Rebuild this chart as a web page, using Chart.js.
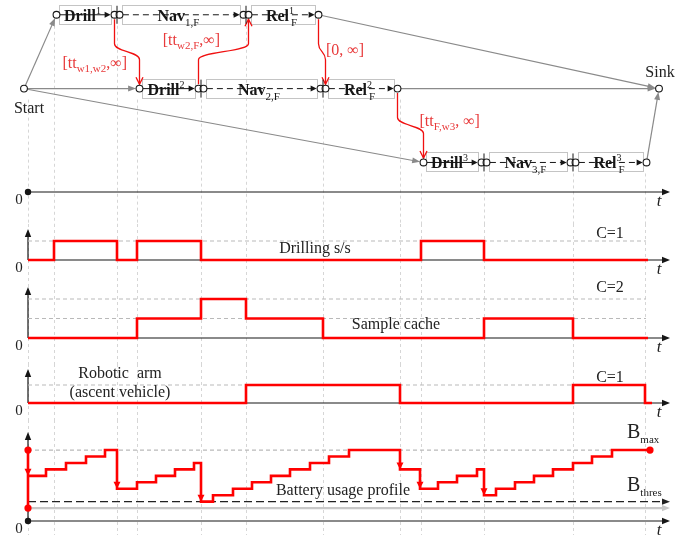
<!DOCTYPE html>
<html>
<head>
<meta charset="utf-8">
<script src="https://cdn.jsdelivr.net/npm/chart.js@4.4.1/dist/chart.umd.min.js"></script>
<style>
  html, body { margin: 0; padding: 0; background: #fff; }
  #wrap { position: relative; width: 692px; height: 535px; }
  #wrap canvas { position: absolute; left: 0; }
</style>
</head>
<body>
<div id="wrap">
  <canvas id="plan" width="692" height="224" style="top:0"></canvas>
  <canvas id="drill" width="692" height="54" style="top:224px"></canvas>
  <canvas id="cache" width="692" height="86" style="top:278px"></canvas>
  <canvas id="arm" width="692" height="56" style="top:364px"></canvas>
  <canvas id="battery" width="692" height="115" style="top:420px"></canvas>
</div>
<script>
'use strict';

// ---- time line (t = 0 at the origin) ----
const EVENT_T = [0, 26, 89, 109, 173, 218, 295, 372, 393, 456, 545, 617];
const EVENT_ROW = [1, 0, 0, 1, 1, 0, 1, 1, 2, 2, 2, 2];
const T_END = 642;
const CAP_END = 618;

// ---- plan: one row per robot ----
const ROBOT_IDS = ['1', '2', '3'];
const DRILL_SPAN = [[26, 89], [109, 173], [393, 456]];
const NAV_SPAN = [[89, 218], [173, 295], [456, 545]];
const REL_SPAN = [[218, 293], [295, 372], [545, 621]];
const START_NODE = [-4, 1];
const SINK_NODE = [631, 1];

// temporal constraints [row, t] -> [row, t]
const LINK_FROM = [[0, 89], [1, 173], [0, 293], [1, 372]];
const LINK_TO = [[1, 109], [0, 218], [1, 295], [2, 393]];
const LINK_TEXT = [['[tt', 'w1,w2', ',∞]'], ['[tt', 'w2,F', ',∞]'], ['[0, ∞]', '', ''], ['[tt', 'F,w3', ', ∞]']];

// ---- resource profiles ----
const DRILL_T = [0, 26, 89, 109, 173, 393, 456, 620];
const DRILL_USE = [0, 1, 0, 1, 0, 1, 0, 0];
const DRILL_CAP = [1];

const CACHE_T = [0, 109, 173, 218, 295, 456, 545, 620];
const CACHE_USE = [0, 1, 2, 1, 0, 1, 0, 0];
const CACHE_CAP = [1, 2];

const ARM_T = [0, 218, 372, 545, 617, 624];
const ARM_USE = [0, 1, 0, 1, 0, 0];
const ARM_CAP = [1];

const BAT_T = [0, 18, 38, 58, 77, 89, 109, 128, 147, 166, 173, 185, 205, 224, 243, 262, 282, 301, 321,
               372, 392, 410, 429, 449, 456, 468, 487, 506, 525, 545, 564, 584, 622];
const BAT_LVL = [7, 8, 9, 10, 11, 5, 6, 7, 8, 9, 3, 4, 5, 6, 7, 8, 9, 10, 11,
                 8, 5, 6, 7, 8, 4, 5, 6, 7, 8, 9, 10, 11, 11];
const BAT_MAX = 11;
const BAT_THRES = 3;
const BAT_RESERVE = 2;

// ---- styles ----
const SERIF = '"Liberation Serif", "DejaVu Serif", serif';
const RED = '#ff0000';
const LINK_RED = '#e8393a';
const GRID = '#d6d6d6';
const CAP = '#b9b9b9';
const INK = '#161616';

const X = (c, t) => c.scales.x.getPixelForValue(t);
const Y = (c, v) => c.scales.y.getPixelForValue(v);

function head(ctx, x, y, ang, len, half, color) {
    ctx.save();
    ctx.translate(x, y);
    ctx.rotate(ang);
    ctx.fillStyle = color;
    ctx.beginPath();
    ctx.moveTo(0, 0);
    ctx.lineTo(-len, -half);
    ctx.lineTo(-len, half);
    ctx.closePath();
    ctx.fill();
    ctx.restore();
}

function dot(ctx, x, y, r, fill, stroke) {
    ctx.save();
    ctx.beginPath();
    ctx.arc(x, y, r, 0, Math.PI * 2);
    ctx.fillStyle = fill;
    ctx.fill();
    if (stroke) { ctx.strokeStyle = stroke; ctx.lineWidth = 1.1; ctx.stroke(); }
    ctx.restore();
}

function hline(ctx, x0, x1, y, color, width, dash) {
    ctx.save();
    ctx.strokeStyle = color;
    ctx.lineWidth = width;
    ctx.setLineDash(dash || []);
    ctx.beginPath();
    ctx.moveTo(x0, y);
    ctx.lineTo(x1, y);
    ctx.stroke();
    ctx.restore();
}

// text made of [string, font, dy] pieces laid left to right
function pieces(ctx, parts, x, y, align, color) {
    ctx.save();
    ctx.fillStyle = color;
    ctx.textAlign = 'left';
    ctx.textBaseline = 'alphabetic';
    let w = 0;
    parts.forEach(p => { ctx.font = p[1]; w += ctx.measureText(p[0]).width; });
    let cx = align === 'center' ? x - w / 2 : align === 'right' ? x - w : x;
    parts.forEach(p => {
        ctx.font = p[1];
        ctx.fillText(p[0], cx, y + (p[2] || 0));
        cx += ctx.measureText(p[0]).width;
    });
    ctx.restore();
}

function drawEventGrid(chart, fromRow) {
    const ctx = chart.ctx;
    ctx.save();
    ctx.strokeStyle = GRID;
    ctx.lineWidth = 1;
    ctx.setLineDash([3, 3]);
    EVENT_T.forEach((t, i) => {
        const x = Math.round(X(chart, t)) + 0.5;
        const y0 = fromRow ? Y(chart, EVENT_ROW[i]) + 11 : 0;
        ctx.beginPath();
        ctx.moveTo(x, y0);
        ctx.lineTo(x, chart.height);
        ctx.stroke();
    });
    ctx.restore();
}

function drawTimeAxis(chart, withY, originDot) {
    const ctx = chart.ctx, a = chart.chartArea;
    const x0 = X(chart, 0), x1 = X(chart, T_END), y0 = a.bottom;
    ctx.save();
    ctx.strokeStyle = INK;
    ctx.lineWidth = 1.2;
    ctx.beginPath();
    ctx.moveTo(x0, y0);
    ctx.lineTo(x1 - 6, y0);
    ctx.stroke();
    head(ctx, x1, y0, 0, 8, 3.2, INK);
    if (withY) {
        const yt = a.top + 5;
        ctx.beginPath();
        ctx.moveTo(x0, y0);
        ctx.lineTo(x0, yt + 6);
        ctx.stroke();
        head(ctx, x0, yt, -Math.PI / 2, 8, 3.2, INK);
    }
    if (originDot) dot(ctx, x0, y0, 3.2, INK);
    ctx.fillStyle = '#222';
    ctx.textAlign = 'center';
    ctx.textBaseline = 'alphabetic';
    ctx.font = '15px ' + SERIF;
    ctx.fillText('0', x0 - 9, y0 + 12);
    ctx.font = 'italic 17px ' + SERIF;
    ctx.fillText('t', x1 - 11, y0 + 14);
    ctx.restore();
}

function grayArrow(ctx, p, q, r) {
    const dx = q[0] - p[0], dy = q[1] - p[1];
    const len = Math.hypot(dx, dy), ux = dx / len, uy = dy / len;
    const tipX = q[0] - ux * r, tipY = q[1] - uy * r;
    ctx.save();
    ctx.strokeStyle = '#8a8a8a';
    ctx.lineWidth = 1.2;
    ctx.beginPath();
    ctx.moveTo(p[0] + ux * r, p[1] + uy * r);
    ctx.lineTo(tipX - ux * 6, tipY - uy * 6);
    ctx.stroke();
    head(ctx, tipX, tipY, Math.atan2(uy, ux), 8, 3, '#8a8a8a');
    ctx.restore();
}

// ---- plan network ----
const LINK_LAYOUT = [['right', 0, 16.5], ['right', -3.5, -6.5], ['left', 4, 3.5], ['left', 9, 0]];

const planPlugin = {
    id: 'plan',
    afterDraw(chart) {
        const ctx = chart.ctx;
        const R = 3.4, G = 2.5;
        const nodes = [], ticks = [];

        drawEventGrid(chart, true);
        drawTimeAxis(chart, false, true);

        const start = [X(chart, START_NODE[0]), Y(chart, START_NODE[1])];
        const sink = [X(chart, SINK_NODE[0]), Y(chart, SINK_NODE[1])];
        nodes.push(start, sink);

        ROBOT_IDS.forEach((id, r) => {
            const y = Y(chart, r);
            grayArrow(ctx, start, [X(chart, DRILL_SPAN[r][0]) + G, y], R);
            grayArrow(ctx, [X(chart, REL_SPAN[r][1]) - G, y], sink, R);
        });

        ROBOT_IDS.forEach((id, r) => {
            const y = Y(chart, r);
            const tasks = [
                { name: 'Drill', span: DRILL_SPAN[r], dash: [], sup: id, sub: '' },
                { name: 'Nav', span: NAV_SPAN[r], dash: [6, 4], sup: '', sub: id + ',F' },
                { name: 'Rel', span: REL_SPAN[r], dash: [6, 4], sup: id, sub: 'F' },
            ];
            tasks.forEach((tk, k) => {
                const xs = X(chart, tk.span[0]), xe = X(chart, tk.span[1]);
                const a = xs + G, b = xe - G;
                ctx.save();
                ctx.strokeStyle = '#c4c4c4';
                ctx.lineWidth = 1;
                ctx.strokeRect(Math.round(xs + 5) + 0.5, Math.round(y - 10) + 0.5, Math.round(xe - xs - 11), 19);
                ctx.strokeStyle = INK;
                ctx.setLineDash(tk.dash);
                ctx.beginPath();
                ctx.moveTo(a + R, y);
                ctx.lineTo(b - R - 5, y);
                ctx.stroke();
                ctx.restore();
                head(ctx, b - R - 0.5, y, 0, 6, 3, INK);

                // task name with robot index
                ctx.save();
                ctx.fillStyle = INK;
                ctx.textBaseline = 'alphabetic';
                ctx.font = 'bold 16px ' + SERIF;
                const wName = ctx.measureText(tk.name).width;
                ctx.font = '10px ' + SERIF;
                const wSup = tk.sup ? ctx.measureText(tk.sup).width : 0;
                ctx.font = '11px ' + SERIF;
                const wSub = tk.sub ? ctx.measureText(tk.sub).width : 0;
                const w = wName + Math.max(wSup, wSub);
                let lx = (xs + xe) / 2 - 3 - w / 2;
                ctx.font = 'bold 16px ' + SERIF;
                ctx.fillText(tk.name, lx, y + 6);
                lx += wName;
                ctx.font = '10px ' + SERIF;
                if (tk.sup) ctx.fillText(tk.sup, lx, y - 1);
                ctx.font = '11px ' + SERIF;
                if (tk.sub) ctx.fillText(tk.sub, lx + (tk.sup ? 2 : 0), y + 11);
                ctx.restore();

                nodes.push([a, y], [b, y]);
                if (k > 0) ticks.push([xs, y]);
            });
        });

        // temporal constraints
        LINK_FROM.forEach((f, i) => {
            const to = LINK_TO[i];
            const ax = X(chart, f[1]) - G, ay = Y(chart, f[0]);
            const bx = X(chart, to[1]) + G, by = Y(chart, to[0]);
            const dir = Math.sign(by - ay);
            const y1 = ay + dir * (R + 1), y2 = by - dir * (R + 1);
            const ym = (y1 + y2) / 2;
            ctx.save();
            ctx.strokeStyle = '#f01010';
            ctx.lineWidth = 1.3;
            ctx.beginPath();
            ctx.moveTo(ax, y1);
            ctx.lineTo(ax, ym - 8 * dir);
            ctx.bezierCurveTo(ax, ym, bx, ym, bx, ym + 8 * dir);
            ctx.lineTo(bx, y2);
            ctx.stroke();
            ctx.beginPath();
            ctx.moveTo(bx - 3.5, y2 - dir * 7);
            ctx.lineTo(bx, y2);
            ctx.lineTo(bx + 3.5, y2 - dir * 7);
            ctx.stroke();
            ctx.restore();

            const lay = LINK_LAYOUT[i];
            const txt = LINK_TEXT[i];
            pieces(ctx, [
                [txt[0], '16px ' + SERIF],
                [txt[1], '11px ' + SERIF, 4],
                [txt[2], '16px ' + SERIF],
            ], (ax + bx) / 2 + lay[1], (y1 + y2) / 2 + lay[2], lay[0], LINK_RED);
        });

        nodes.forEach(n => dot(ctx, n[0], n[1], R, '#fff', INK));
        ctx.save();
        ctx.strokeStyle = INK;
        ctx.lineWidth = 1;
        ticks.forEach(p => {
            ctx.beginPath();
            ctx.moveTo(p[0], p[1] - 9);
            ctx.lineTo(p[0], p[1] + 9);
            ctx.stroke();
        });
        ctx.restore();

        pieces(ctx, [['Start', '16px ' + SERIF]], start[0] + 5, start[1] + 24, 'center', '#222');
        pieces(ctx, [['Sink', '16px ' + SERIF]], sink[0] + 1, sink[1] - 12, 'center', '#222');
    }
};

new Chart(document.getElementById('plan'), {
    type: 'line',
    data: { datasets: [] },
    options: {
        responsive: false,
        animation: false,
        events: [],
        layout: { padding: { left: 28, right: 0, top: 0, bottom: 32 } },
        plugins: { legend: { display: false }, tooltip: { enabled: false } },
        scales: {
            x: { type: 'linear', min: 0, max: 664, display: false },
            y: { type: 'linear', min: -0.2, max: 2.4, reverse: true, display: false }
        }
    },
    plugins: [planPlugin]
});

// ---- resource panels ----
function panel(id, cfg) {
    const plugin = {
        id: 'panel',
        beforeDatasetsDraw(chart) {
            drawEventGrid(chart, false);
            drawTimeAxis(chart, true, cfg.originDot);
            (cfg.caps || []).forEach(c => {
                hline(chart.ctx, X(chart, 0), X(chart, CAP_END), Y(chart, c), CAP, 1.2, [4, 3]);
            });
            if (cfg.under) cfg.under(chart);
        },
        afterDatasetsDraw(chart) {
            const ctx = chart.ctx;
            (cfg.labels || []).forEach(l => {
                ctx.save();
                ctx.fillStyle = '#222';
                ctx.font = (l.size || 16) + 'px ' + SERIF;
                ctx.textAlign = 'center';
                ctx.textBaseline = 'middle';
                ctx.fillText(l.text, X(chart, l.t), Y(chart, l.v));
                ctx.restore();
            });
            if (cfg.over) cfg.over(chart);
        }
    };
    return new Chart(document.getElementById(id), {
        type: 'line',
        data: {
            datasets: [{
                data: cfg.t.map((t, i) => ({ x: t, y: cfg.v[i] })),
                stepped: true,
                borderColor: RED,
                borderWidth: 2.6,
                borderJoinStyle: 'miter',
                pointRadius: 0,
                fill: false,
                clip: false
            }]
        },
        options: {
            responsive: false,
            animation: false,
            events: [],
            layout: { padding: { left: 28, right: 0, top: cfg.padTop || 0, bottom: cfg.padBottom } },
            plugins: { legend: { display: false }, tooltip: { enabled: false } },
            scales: {
                x: { type: 'linear', min: 0, max: 664, display: false },
                y: { type: 'linear', min: 0, max: cfg.yMax, display: false }
            }
        },
        plugins: [plugin]
    });
}

panel('drill', {
    t: DRILL_T, v: DRILL_USE, caps: DRILL_CAP, yMax: 36 / 19, padBottom: 18,
    labels: [
        { text: 'Drilling s/s', t: 287, v: 0.58 },
        { text: 'C=1', t: 582, v: 1.37 },
    ]
});

panel('cache', {
    t: CACHE_T, v: CACHE_USE, caps: CACHE_CAP, yMax: 56 / 19.5, padTop: 4, padBottom: 26,
    labels: [
        { text: 'Sample cache', t: 368, v: 0.67 },
        { text: 'C=2', t: 582, v: 2.6 },
    ]
});

panel('arm', {
    t: ARM_T, v: ARM_USE, caps: ARM_CAP, yMax: 39 / 18, padBottom: 17,
    labels: [
        { text: 'Robotic  arm', t: 92, v: 1.61 },
        { text: '(ascent vehicle)', t: 92, v: 0.56 },
        { text: 'C=1', t: 582, v: 1.39 },
    ]
});

panel('battery', {
    t: BAT_T, v: BAT_LVL, yMax: 94 / 6.45, padTop: 7, padBottom: 14, originDot: true,
    labels: [
        { text: 'Battery usage profile', t: 315, v: 4.65 },
    ],
    under(chart) {
        const ctx = chart.ctx;
        const x0 = X(chart, 0), x1 = X(chart, T_END);
        hline(ctx, x0, X(chart, BAT_T[BAT_T.length - 1]), Y(chart, BAT_MAX), CAP, 1.2, [4, 3]);
        hline(ctx, x0, x1 - 6, Y(chart, BAT_RESERVE), '#c8c8c8', 2.4);
        head(ctx, x1, Y(chart, BAT_RESERVE), 0, 8, 3.2, '#c8c8c8');
        hline(ctx, x0, x1 - 6, Y(chart, BAT_THRES), '#222', 1.3, [8, 4]);
        head(ctx, x1, Y(chart, BAT_THRES), 0, 8, 3.2, '#222');
    },
    over(chart) {
        const ctx = chart.ctx;
        const x0 = X(chart, 0);
        ctx.save();
        ctx.strokeStyle = RED;
        ctx.lineWidth = 2.6;
        ctx.beginPath();
        ctx.moveTo(x0, Y(chart, BAT_MAX));
        ctx.lineTo(x0, Y(chart, BAT_RESERVE));
        ctx.stroke();
        ctx.restore();
        head(ctx, x0, Y(chart, BAT_LVL[0]), Math.PI / 2, 7, 3.5, RED);
        BAT_T.forEach((t, i) => {
            if (i && BAT_LVL[i] < BAT_LVL[i - 1]) head(ctx, X(chart, t), Y(chart, BAT_LVL[i]), Math.PI / 2, 7, 3.5, RED);
        });
        dot(ctx, x0, Y(chart, BAT_MAX), 3.6, RED);
        dot(ctx, x0, Y(chart, BAT_RESERVE), 3.6, RED);
        const last = BAT_T.length - 1;
        dot(ctx, X(chart, BAT_T[last]), Y(chart, BAT_LVL[last]), 3.6, RED);

        const bx = X(chart, 599);
        pieces(ctx, [['B', '20px ' + SERIF], ['max', '11px ' + SERIF, 5]], bx, Y(chart, 12.87), 'left', '#222');
        pieces(ctx, [['B', '20px ' + SERIF], ['thres', '11px ' + SERIF, 5]], bx, Y(chart, 4.65), 'left', '#222');
    }
});
</script>
</body>
</html>
